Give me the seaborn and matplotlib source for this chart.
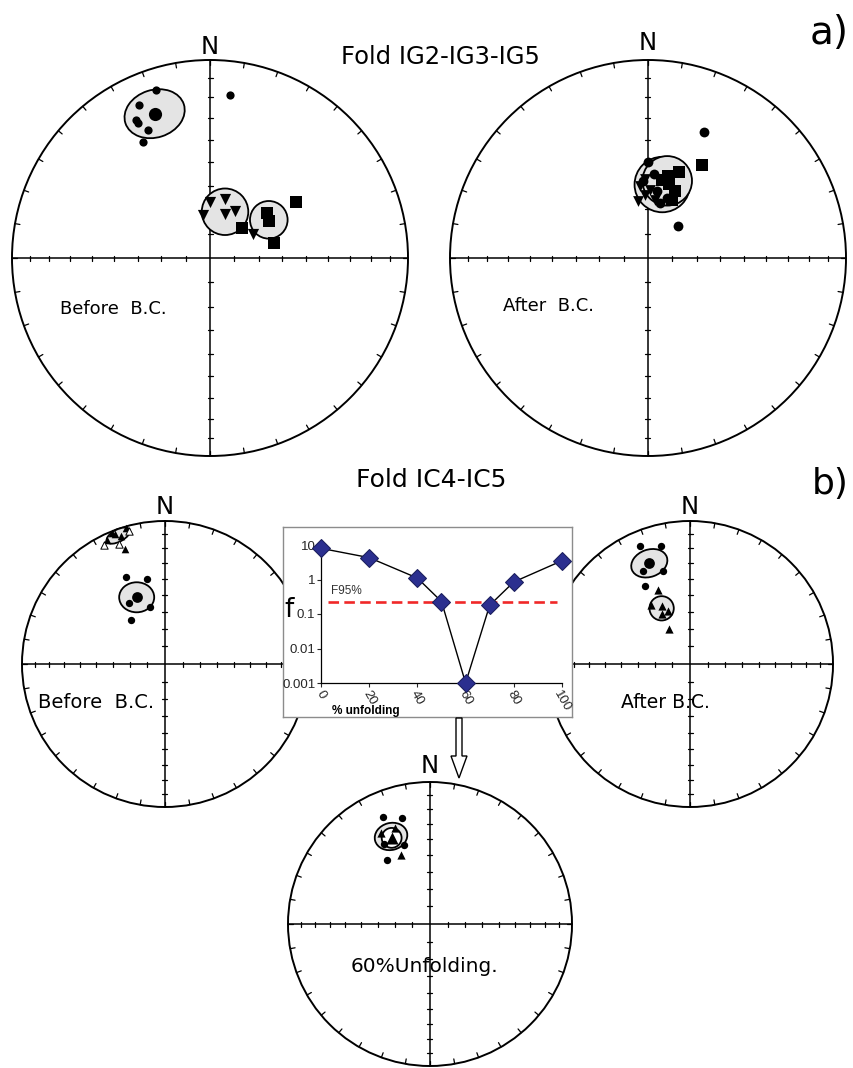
import numpy as np
import pandas as pd
import matplotlib
matplotlib.use("Agg")
import matplotlib.pyplot as plt
from matplotlib.patches import Circle, Ellipse, FancyArrow
import seaborn as sns

W, H = 854, 1068

# ---- palaeomagnetic directions (declination, inclination in degrees) ----
# a) Fold IG2-IG3-IG5, before bedding correction
a_bef_circ_dec = [342, 335, 332, 332, 334, 330, 7]
a_bef_circ_inc = [12, 16, 22, 24, 29, 33, 18]
a_bef_tri_dec = [0, 14, 19, 28, 351, 61]
a_bef_tri_inc = [67, 65, 71, 68, 72, 70]
a_bef_sq_dec = [52, 58, 46, 57, 77]
a_bef_sq_inc = [60, 61, 72, 47, 63]
a_bef_means = {"circ": (339, 23), "tri": (18, 70), "sq": (57, 61)}

# a) after bedding correction
a_aft_circ_dec = [24, 43, 0, 356, 12, 8, 4, 18]
a_aft_circ_inc = [31, 72, 50, 58, 67, 62, 55, 64]
a_aft_sq_dec = [30, 14, 22, 16, 22, 20, 10]
a_aft_sq_inc = [45, 55, 64, 58, 60, 52, 57]
a_aft_tri_dec = [354, 357, 7, 350, 2, 358]
a_aft_tri_inc = [60, 64, 66, 66, 62, 57]
a_aft_means = {"circ": (11, 59), "all": (14, 57)}

# b) Fold IC4-IC5, before bedding correction
b_bef_circ_dec = [336, 348, 329, 345, 322]
b_bef_circ_inc = [34, 39, 49, 56, 58]
b_bef_tri_dec = [341, 338, 341, 344, 335, 339]
b_bef_tri_inc = [16, 1, 6, 1, 5, 3]
b_bef_open_dec = [333, 345, 339]
b_bef_open_inc = [-7, -4, -11]
b_bef_means = {"circ": (337, 48), "tri": (340, 5)}

# b) after bedding correction
b_aft_circ_dec = [337, 346, 333, 344, 330]
b_aft_circ_inc = [11, 16, 28, 33, 37]
b_aft_tri_dec = [337, 334, 331, 327, 337, 329]
b_aft_tri_inc = [43, 53, 57, 49, 57, 67]
b_aft_means = {"circ": (338, 25), "tri": (333, 54)}

# b) 60 % unfolding
b_60_circ_dec = [336, 345, 326, 330, 342]
b_60_circ_inc = [19, 24, 45, 35, 41]
b_60_tri_dec = [337, 332, 340]
b_60_tri_inc = [46, 28, 29]
b_60_means = {"circ": (336, 33), "tri": (336, 34)}

# fold test curve
unfold_pct = [0, 20, 40, 50, 60, 70, 80, 100]
f_stat = [8.0, 4.3, 1.1, 0.23, 0.001, 0.18, 0.85, 3.5]
f95 = 0.23


def proj(dec, inc):
    dec = np.radians(np.asarray(dec, float))
    inc = np.abs(np.asarray(inc, float))
    r = np.sqrt(2) * np.sin(np.radians(90 - inc) / 2)
    return r * np.sin(dec), r * np.cos(dec)


sns.set_style("white")
plt.rcParams["font.family"] = ["DejaVu Sans"]

fig = plt.figure(figsize=(W / 100, H / 100), dpi=100)


def net_axes(cx, cy, R):
    ax = fig.add_axes([(cx - R) / W, (H - cy - R) / H, 2 * R / W, 2 * R / H])
    ax.set_xlim(-1, 1)
    ax.set_ylim(-1, 1)
    ax.axis("off")
    ax.add_patch(Circle((0, 0), 1, fill=False, ec="black", lw=1.4, clip_on=False))
    ax.plot([-1, 1], [0, 0], color="black", lw=1.1, clip_on=False)
    ax.plot([0, 0], [-1, 1], color="black", lw=1.1, clip_on=False)
    half = 2.5 / R
    for inc in range(10, 90, 10):
        r = np.sqrt(2) * np.sin(np.radians(90 - inc) / 2)
        for s in (1, -1):
            ax.plot([-half, half], [s * r, s * r], color="black", lw=0.9)
            ax.plot([s * r, s * r], [-half, half], color="black", lw=0.9)
    for d in np.radians(np.arange(0, 360, 10)):
        ax.plot([np.sin(d), (1 - 5 / R) * np.sin(d)],
                [np.cos(d), (1 - 5 / R) * np.cos(d)], color="black", lw=0.9)
    return ax


def pts(ax, dec, inc, marker, s, fc="black", lw=0):
    x, y = proj(dec, inc)
    sns.scatterplot(x=x, y=y, marker=marker, s=s, color=fc, edgecolor="black",
                    linewidth=lw, ax=ax, legend=False, zorder=4, clip_on=False)


def oval(ax, mean, w, h, ang=0, fc="#e4e4e4"):
    x, y = proj([mean[0]], [mean[1]])
    ax.add_patch(Ellipse((x[0], y[0]), w, h, angle=ang, fc=fc, ec="black",
                         lw=1.3, zorder=2))


# a) before
ax = net_axes(210, 258, 198)
oval(ax, a_bef_means["circ"], 0.31, 0.24, 18)
oval(ax, a_bef_means["tri"], 0.235, 0.235)
oval(ax, a_bef_means["sq"], 0.19, 0.19)
pts(ax, a_bef_circ_dec, a_bef_circ_inc, "o", 35)
pts(ax, [a_bef_means["circ"][0]], [a_bef_means["circ"][1]], "o", 90)
pts(ax, a_bef_tri_dec, a_bef_tri_inc, "v", 65)
pts(ax, a_bef_sq_dec, a_bef_sq_inc, "s", 65)

# a) after
ax = net_axes(648, 258, 198)
oval(ax, a_aft_means["circ"], 0.28, 0.28)
oval(ax, a_aft_means["all"], 0.25, 0.25)
pts(ax, a_aft_circ_dec, a_aft_circ_inc, "o", 50)
pts(ax, a_aft_sq_dec, a_aft_sq_inc, "s", 65)
pts(ax, a_aft_tri_dec, a_aft_tri_inc, "v", 60)

# b) before
ax = net_axes(165, 664, 143)
oval(ax, b_bef_means["circ"], 0.245, 0.21)
oval(ax, b_bef_means["tri"], 0.18, 0.085, 28)
pts(ax, b_bef_circ_dec, b_bef_circ_inc, "o", 28)
pts(ax, [b_bef_means["circ"][0]], [b_bef_means["circ"][1]], "o", 60)
pts(ax, b_bef_tri_dec, b_bef_tri_inc, "^", 30)
pts(ax, b_bef_open_dec, b_bef_open_inc, "^", 28, fc="white", lw=0.7)

# b) after
ax = net_axes(690, 664, 143)
oval(ax, b_aft_means["circ"], 0.26, 0.19, 20)
oval(ax, b_aft_means["tri"], 0.17, 0.17)
pts(ax, b_aft_circ_dec, b_aft_circ_inc, "o", 28)
pts(ax, [b_aft_means["circ"][0]], [b_aft_means["circ"][1]], "o", 60)
pts(ax, b_aft_tri_dec, b_aft_tri_inc, "^", 35)

# b) 60 % unfolding
ax = net_axes(430, 924, 142)
oval(ax, b_60_means["circ"], 0.232, 0.19, 15)
oval(ax, b_60_means["tri"], 0.14, 0.14, fc="white")
pts(ax, b_60_circ_dec, b_60_circ_inc, "o", 28)
pts(ax, b_60_tri_dec, b_60_tri_inc, "^", 35)
pts(ax, [b_60_means["tri"][0]], [b_60_means["tri"][1]], "^", 75)

# fold test inset: frame
box = fig.add_axes([283 / W, (H - 717) / H, 289 / W, 190 / H], zorder=5)
box.set_xticks([])
box.set_yticks([])
box.set_facecolor("white")
for sp in box.spines.values():
    sp.set_color("#8c8c8c")
    sp.set_linewidth(1.0)

fx = fig.add_axes([321 / W, (H - 683) / H, 241 / W, 138 / H], zorder=6)
fx.patch.set_visible(False)
fold = pd.DataFrame({"unfold": unfold_pct, "f": f_stat})
sns.lineplot(data=fold, x="unfold", y="f", ax=fx, color="black", lw=1.0,
             marker="D", markersize=9, markerfacecolor="#2b2f8f",
             markeredgecolor="#1a1d5c", clip_on=False, zorder=3)
fx.set_yscale("log")
fx.set_ylim(0.001, 10)
fx.set_xlim(0, 100)
fx.hlines(f95, 3, 98, colors="#f02828", linestyles=(0, (4, 2)), lw=1.9, zorder=2)
fx.text(4, f95 * 1.7, "F95%", fontsize=8.5, color="#333333",
        family="Liberation Sans")
fx.set_yticks([10, 1, 0.1, 0.01, 0.001])
fx.set_yticklabels(["10", "1", "0.1", "0.01", "0.001"], fontsize=9.5,
                   family="Liberation Sans")
fx.minorticks_off()
fx.set_xticks([0, 20, 40, 60, 80, 100])
fx.set_xticklabels(["0", "20", "40", "60", "80", "100"], fontsize=9.5,
                   rotation=-60, ha="center", va="top", family="Liberation Sans")
fx.tick_params(axis="both", direction="out", length=3, width=0.8, pad=1,
               left=True, bottom=True)
fx.set_xlabel("")
fx.set_ylabel("")
for side in ("top", "right"):
    fx.spines[side].set_visible(False)
for side in ("left", "bottom"):
    fx.spines[side].set_color("black")
    fx.spines[side].set_linewidth(0.9)

# overlay for labels and arrow
ov = fig.add_axes([0, 0, 1, 1], zorder=10)
ov.set_xlim(0, W)
ov.set_ylim(H, 0)
ov.axis("off")
ov.patch.set_visible(False)

big = dict(ha="center", va="center", color="black")
for x, y in [(210, 47), (648, 43), (165, 507), (690, 507), (430, 766)]:
    ov.text(x, y, "N", fontsize=17.5, **big)
ov.text(829, 33, "a)", fontsize=28, **big)
ov.text(830, 484, "b)", fontsize=26, **big)
ov.text(440, 57, "Fold IG2-IG3-IG5", fontsize=17.5, **big)
ov.text(431, 480, "Fold IC4-IC5", fontsize=18, **big)
ov.text(113, 309, "Before  B.C.", fontsize=13, **big)
ov.text(549, 306, "After  B.C.", fontsize=13, **big)
ov.text(96, 702, "Before  B.C.", fontsize=14, **big)
ov.text(665, 702, "After B.C.", fontsize=13.5, **big)
ov.text(424, 966, "60%Unfolding.", fontsize=14.5, **big)
ov.text(289, 610, "f", fontsize=19, **big)
ov.text(366, 711, "% unfolding", fontsize=8.5, fontweight="bold",
        family="Liberation Sans", **big)
ov.add_patch(FancyArrow(459, 718, 0, 60, width=6, head_width=16, head_length=22,
                        length_includes_head=True, fc="white", ec="black", lw=1.0))

fig.savefig("out.png", dpi=100)
